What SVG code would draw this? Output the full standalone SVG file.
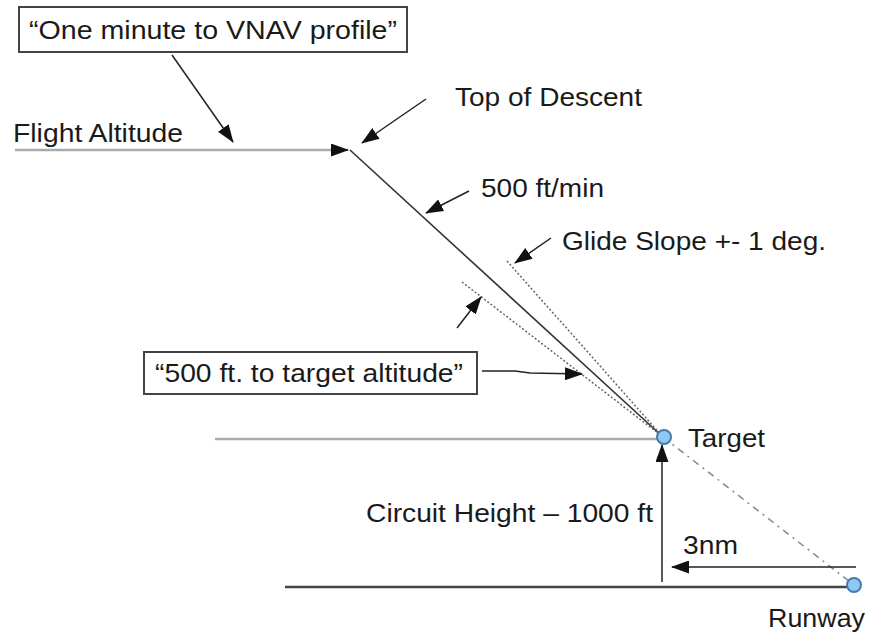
<svg xmlns="http://www.w3.org/2000/svg" width="869" height="635" viewBox="0 0 869 635">
<style>
text { font-family: "Liberation Sans", Arial, sans-serif; font-size: 26px; fill: #1a1a1a; }
.box { fill: #ffffff; stroke: #444444; stroke-width: 2; }
.ptr { stroke: #222222; stroke-width: 1.5; fill: none; marker-end: url(#ah); }
.desc { stroke: #333333; stroke-width: 1.6; fill: none; }
.dot { stroke: #666666; stroke-width: 1.5; stroke-dasharray: 2 2; fill: none; }
.gray { stroke: #aaaaaa; stroke-width: 2.5; fill: none; }
.dark { stroke: #444444; stroke-width: 2.5; fill: none; }
.dd { stroke: #888888; stroke-width: 1.5; stroke-dasharray: 7 5 2 5; fill: none; }
.pt { fill: #8ec8f5; stroke: #4a7aa8; stroke-width: 2; }
</style>
<defs>
<marker id="ah" markerUnits="userSpaceOnUse" markerWidth="18" markerHeight="13" refX="17" refY="6.5" orient="auto">
<path d="M0,0 L18,6.5 L0,13 z" fill="#111111"/>
</marker>
</defs>
<g id="connectors">
<line class="gray" x1="15" y1="150" x2="334" y2="150"/>
<line class="ptr" x1="334" y1="150" x2="348" y2="150"/>
<line class="desc" x1="350" y1="150" x2="663" y2="437"/>
<line class="dot" x1="507" y1="261" x2="663" y2="437"/>
<line class="dot" x1="462" y1="282" x2="663" y2="437"/>
<line class="gray" x1="215" y1="439" x2="657" y2="439"/>
<line class="dark" x1="285" y1="587" x2="847" y2="587"/>
<line class="dd" x1="663" y1="437" x2="854" y2="585"/>
<line class="ptr" x1="172" y1="55" x2="233" y2="142"/>
<line class="ptr" x1="426" y1="99" x2="362" y2="143"/>
<line class="ptr" x1="469" y1="191" x2="426" y2="213"/>
<line class="ptr" x1="551" y1="238" x2="515" y2="263"/>
<line class="ptr" x1="457" y1="328" x2="481" y2="297"/>
<polyline class="ptr" points="482,371 515,371 530,373 582,374"/>
<line class="ptr" x1="662" y1="582" x2="662" y2="445"/>
<line class="ptr" x1="856" y1="567" x2="672" y2="567"/>
</g>
<g id="vnav-box">
<rect class="box" x="19" y="7" width="388" height="45"/>
<text x="29" y="39" font-size="27" textLength="368" lengthAdjust="spacingAndGlyphs">“One minute to VNAV profile”</text>
</g>
<g id="flight-altitude">
<text x="13" y="142" textLength="170" lengthAdjust="spacingAndGlyphs">Flight Altitude</text>
</g>
<g id="top-of-descent">
<text x="455" y="106" textLength="187" lengthAdjust="spacingAndGlyphs">Top of Descent</text>
</g>
<g id="rate">
<text x="481" y="197" textLength="123" lengthAdjust="spacingAndGlyphs">500 ft/min</text>
</g>
<g id="glide-slope">
<text x="562" y="250" textLength="264" lengthAdjust="spacingAndGlyphs">Glide Slope +- 1 deg.</text>
</g>
<g id="target-alt-box">
<rect class="box" x="144" y="352" width="333" height="42"/>
<text x="155" y="382" font-size="27" textLength="308" lengthAdjust="spacingAndGlyphs">“500 ft. to target altitude”</text>
</g>
<g id="target">
<circle class="pt" cx="664" cy="437" r="7"/>
<text x="688" y="447" textLength="77" lengthAdjust="spacingAndGlyphs">Target</text>
</g>
<g id="circuit-height">
<text x="366" y="522" textLength="287" lengthAdjust="spacingAndGlyphs">Circuit Height – 1000 ft</text>
</g>
<g id="distance">
<text x="683" y="554" textLength="55" lengthAdjust="spacingAndGlyphs">3nm</text>
</g>
<g id="runway">
<circle class="pt" cx="854" cy="585" r="7"/>
<text x="768" y="627" textLength="97" lengthAdjust="spacingAndGlyphs">Runway</text>
</g>
</svg>
